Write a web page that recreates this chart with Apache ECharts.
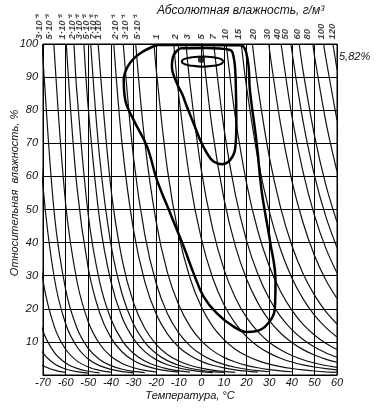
<!DOCTYPE html>
<html>
<head>
<meta charset="utf-8">
<script src="https://cdn.jsdelivr.net/npm/echarts/dist/echarts.min.js"></script>
<style>
  html, body { margin: 0; padding: 0; background: #fff; }
  #main { width: 376px; height: 410px; }
</style>
</head>
<body>
<div id="main"></div>
<script>
// подписи изолиний абсолютной влажности (сверху) и их положение по температуре
var topLabelText = ['3·10⁻³', '5·10⁻³', '1·10⁻²', '2·10⁻²', '3·10⁻²', '5·10⁻²', '7·10⁻²', '1·10⁻¹',
    '2·10⁻¹', '3·10⁻¹', '5·10⁻¹', '1', '2', '3', '5', '7', '10', '15', '20', '30', '40', '50', '60', '80', '100', '120'];
var topLabelT = [-71.6, -67.2, -61.5, -57, -54, -50.9, -47.8, -45.6, -38, -33.6, -28.3, -19.9, -11.5, -6.1,
    -0.15, 5.4, 10.6, 16.5, 23.1, 29.0, 33.7, 37.1, 42.6, 46.7, 53.3, 57.8];

var xTicks = [-70, -60, -50, -40, -30, -20, -10, 0, 10, 20, 30, 40, 50, 60];
var yTicks = [10, 20, 30, 40, 50, 60, 70, 80, 90, 100];

// изолинии: [температура, отн. влажность]
var isoPoints = [
    [[-75, 5.8], [-70, 2.86], [-65, 1.46], [-60, 0.78]],
    [[-75, 13.6], [-70, 6.67], [-65, 3.41], [-60, 1.81], [-55, 1.0], [-50, 0.56]],
    [[-75, 27.1], [-70, 13.3], [-65, 6.83], [-60, 3.63], [-55, 1.99], [-50, 1.13], [-45, 0.66]],
    [[-75, 58.1], [-70, 28.6], [-65, 14.6], [-60, 7.77], [-55, 4.26], [-50, 2.42], [-45, 1.41], [-40, 0.85]],
    [[-73.9, 100], [-70, 57.1], [-65, 29.3], [-60, 15.5], [-55, 8.53], [-50, 4.84], [-45, 2.83], [-40, 1.70], [-35, 1.04], [-30, 0.66]],
    [[-70.3, 100], [-70, 95.2], [-65, 48.8], [-60, 25.9], [-55, 14.2], [-50, 8.07], [-45, 4.71], [-40, 2.83], [-35, 1.74], [-30, 1.10], [-25, 0.71]],
    [[-65.2, 100], [-60, 51.8], [-55, 28.4], [-50, 16.1], [-45, 9.43], [-40, 5.66], [-35, 3.48], [-30, 2.19], [-25, 1.41], [-20, 0.93]],
    [[-59.7, 100], [-55, 56.9], [-50, 32.3], [-45, 18.9], [-40, 11.3], [-35, 6.96], [-30, 4.39], [-25, 2.82], [-20, 1.85], [-15, 1.24], [-10, 0.85]],
    [[-56.3, 100], [-55, 85.3], [-50, 48.4], [-45, 28.3], [-40, 17.0], [-35, 10.4], [-30, 6.58], [-25, 4.24], [-20, 2.78], [-15, 1.86], [-10, 1.27], [-5, 0.88]],
    [[-51.9, 100], [-50, 80.7], [-45, 47.1], [-40, 28.3], [-35, 17.4], [-30, 11.0], [-25, 7.06], [-20, 4.64], [-15, 3.10], [-10, 2.12], [-5, 1.47], [0, 1.03], [5, 0.74]],
    [[-48.9, 100], [-45, 66.0], [-40, 39.6], [-35, 24.4], [-30, 15.4], [-25, 9.88], [-20, 6.49], [-15, 4.35], [-10, 2.96], [-5, 2.05], [0, 1.44], [5, 1.03], [10, 0.75]],
    [[-45.6, 100], [-40, 56.6], [-35, 34.8], [-30, 21.9], [-25, 14.1], [-20, 9.27], [-15, 6.21], [-10, 4.23], [-5, 2.93], [0, 2.06], [5, 1.47], [10, 1.07], [15, 0.78]],
    [[-38.7, 100], [-35, 69.6], [-30, 43.9], [-25, 28.2], [-20, 18.5], [-15, 12.4], [-10, 8.46], [-5, 5.86], [0, 4.12], [5, 2.94], [10, 2.13], [15, 1.56], [20, 1.16], [25, 0.87]],
    [[-34.5, 100], [-30, 65.8], [-25, 42.4], [-20, 27.8], [-15, 18.6], [-10, 12.7], [-5, 8.79], [0, 6.19], [5, 4.42], [10, 3.20], [15, 2.34], [20, 1.74], [25, 1.31], [30, 0.99]],
    [[-29, 100], [-25, 70.6], [-20, 46.4], [-15, 31.0], [-10, 21.2], [-5, 14.7], [0, 10.3], [5, 7.36], [10, 5.33], [15, 3.91], [20, 2.90], [25, 2.18], [30, 1.65], [35, 1.27], [40, 0.98]],
    [[-20.9, 100], [-20, 92.7], [-15, 62.1], [-10, 42.3], [-5, 29.3], [0, 20.6], [5, 14.7], [10, 10.7], [15, 7.81], [20, 5.80], [25, 4.35], [30, 3.30], [35, 2.53], [40, 1.96], [45, 1.53], [50, 1.21], [55, 0.96], [60, 0.77]],
    [[-12.2, 100], [-10, 84.6], [-5, 58.6], [0, 41.2], [5, 29.4], [10, 21.3], [15, 15.6], [20, 11.6], [25, 8.71], [30, 6.61], [35, 5.07], [40, 3.92], [45, 3.06], [50, 2.42], [55, 1.92], [60, 1.54]],
    [[-6.75, 100], [-5, 87.9], [0, 61.9], [5, 44.2], [10, 32.0], [15, 23.4], [20, 17.4], [25, 13.1], [30, 9.91], [35, 7.60], [40, 5.88], [45, 4.60], [50, 3.62], [55, 2.88], [60, 2.31]],
    [[0.45, 100], [5, 73.6], [10, 53.3], [15, 39.1], [20, 29.0], [25, 21.8], [30, 16.5], [35, 12.7], [40, 9.81], [45, 7.66], [50, 6.04], [55, 4.80], [60, 3.85]],
    [[5.5, 100], [10, 74.6], [15, 54.7], [20, 40.6], [25, 30.5], [30, 23.1], [35, 17.7], [40, 13.7], [45, 10.7], [50, 8.46], [55, 6.72], [60, 5.38]],
    [[11, 100], [15, 78.1], [20, 58.0], [25, 43.5], [30, 33.0], [35, 25.3], [40, 19.6], [45, 15.3], [50, 12.1], [55, 9.60], [60, 7.69]],
    [[17.7, 100], [20, 87.0], [25, 65.3], [30, 49.6], [35, 38.0], [40, 29.4], [45, 23.0], [50, 18.1], [55, 14.4], [60, 11.5]],
    [[22.6, 100], [25, 87.1], [30, 66.1], [35, 50.7], [40, 39.2], [45, 30.6], [50, 24.2], [55, 19.2], [60, 15.4]],
    [[29.8, 100], [35, 76.0], [40, 58.8], [45, 46.0], [50, 36.2], [55, 28.8], [60, 23.1]],
    [[35.3, 100], [40, 78.4], [45, 61.3], [50, 48.3], [55, 38.4], [60, 30.8]],
    [[39.6, 100], [45, 76.6], [50, 60.4], [55, 48.0], [60, 38.5]],
    [[43.3, 100], [45, 91.9], [50, 72.5], [55, 57.6], [60, 46.2]],
    [[49.3, 100], [50, 96.6], [55, 76.8], [60, 61.5]],
    [[54.1, 100], [55, 96.0], [60, 76.9]],
    [[58.2, 100], [60, 92.3]]
];

// контуры повторяемости
var outerContour = [[-19.6, 99.7], [0, 99.7], [17.2, 99.6], [20.5, 95.2], [21.5, 86], [24.5, 70], [26.8, 55],
    [30.5, 40], [32.8, 28.5], [32.5, 20], [29, 15.2], [24, 13.2], [20.2, 13], [14.3, 14.6], [6.9, 18.6],
    [1, 23.7], [-3.4, 30.7], [-7.8, 38.8], [-13.7, 48.8], [-19.6, 58.9], [-24, 69], [-29.9, 77],
    [-33.6, 83], [-34.3, 89.1], [-32.1, 93.7], [-27, 97.2], [-19.6, 99.7]];
var middleContour = [[-9.3, 98.7], [2, 98.8], [12.8, 98.2], [14.3, 96], [15, 92], [15.3, 86], [15.5, 76],
    [15, 68.5], [12.8, 65], [9.1, 63.7], [5.4, 64.5], [2.5, 67], [-0.5, 71], [-3.4, 76], [-6.4, 81.1],
    [-8.6, 85.1], [-10.8, 88.1], [-13, 93.2], [-12.2, 96.7], [-9.3, 98.7]];
var innerContour = [[9.8, 94.7], [8.6, 95.5], [5.2, 96.0], [0.6, 96.25], [-4.0, 96.0], [-7.4, 95.5], [-8.6, 94.7],
    [-7.4, 93.9], [-4.0, 93.4], [0.6, 93.15], [5.2, 93.4], [8.6, 93.9], [9.8, 94.7]];
var peak = [0, 95.3];
var peakText = '5,82%';

var font = 'Liberation Sans';
var myChart = echarts.init(document.getElementById('main'));

var series = [];
for (var i = 0; i < isoPoints.length; i++) {
    series.push({
        type: 'line',
        data: isoPoints[i],
        smooth: 0.35,
        showSymbol: false,
        silent: true,
        lineStyle: {color: '#111', width: 1.2}
    });
}
[outerContour, middleContour, innerContour].forEach(function (c, k) {
    series.push({
        type: 'line',
        data: c,
        smooth: 0.4,
        showSymbol: false,
        silent: true,
        lineStyle: {color: '#000', width: k == 2 ? 2 : 2.5}
    });
});
series.push({
    type: 'scatter',
    data: [peak],
    symbolSize: 7,
    silent: true,
    itemStyle: {color: '#000'}
});
// подписи изолиний над рамкой
var topData = [];
for (var j = 0; j < topLabelT.length; j++) {
    topData.push({name: topLabelText[j], value: [topLabelT[j], 100]});
}
series.push({
    type: 'scatter',
    data: topData,
    symbolSize: 1,
    clip: false,
    silent: true,
    itemStyle: {color: 'rgba(0,0,0,0)'},
    label: {
        show: true,
        formatter: '{b}',
        position: 'top',
        distance: 4,
        rotate: 90,
        align: 'left',
        verticalAlign: 'middle',
        fontSize: 9.5,
        fontStyle: 'italic',
        fontWeight: 'bold',
        fontFamily: font,
        color: '#111'
    }
});

option = {
    backgroundColor: '#fff',
    animation: false,
    grid: {left: 43, right: 39, top: 44, bottom: 35, outerBoundsMode: 'none', containLabel: false,
        show: true, borderColor: '#000', borderWidth: 1},
    xAxis: {
        type: 'value',
        min: -70,
        max: 60,
        interval: 10,
        name: 'Температура, °C',
        nameLocation: 'middle',
        nameGap: 15,
        nameMoveOverlap: false,
        nameTextStyle: {fontSize: 11, fontStyle: 'italic', fontFamily: font, color: '#111'},
        axisLine: {show: true, lineStyle: {color: '#000'}},
        axisTick: {show: false},
        axisLabel: {
            margin: 2, fontSize: 11, fontStyle: 'italic', fontFamily: font, color: '#111',
            formatter: function (v) { return xTicks.indexOf(v) >= 0 ? String(v) : ''; }
        },
        splitLine: {show: true, lineStyle: {color: '#000', width: 1}}
    },
    yAxis: {
        type: 'value',
        min: 0,
        max: 100,
        interval: 10,
        axisLine: {show: true, lineStyle: {color: '#000'}},
        axisTick: {show: false},
        axisLabel: {
            margin: 5, fontSize: 11, fontStyle: 'italic', fontFamily: font, color: '#111',
            formatter: function (v) { return yTicks.indexOf(v) >= 0 ? String(v) : ''; }
        },
        splitLine: {show: true, lineStyle: {color: '#000', width: 1}}
    },
    graphic: [
        {type: 'text', left: 157, top: 5, silent: true,
            style: {text: 'Абсолютная влажность, г/м³', fontSize: 12, fontStyle: 'italic', fontFamily: font, fill: '#111'}},
        {type: 'text', left: 339, top: 51, silent: true,
            style: {text: peakText, fontSize: 11, fontStyle: 'italic', fontFamily: font, fill: '#111'}},
        // подпись оси Y
        {type: 'text', x: 15, y: 193, rotation: Math.PI / 2, silent: true,
            style: {text: 'Относительная  влажность, %', fontSize: 11, fontStyle: 'italic', fontFamily: font,
                fill: '#111', align: 'center', verticalAlign: 'middle'}}
    ],
    series: series
};

myChart.setOption(option);
</script>
</body>
</html>
